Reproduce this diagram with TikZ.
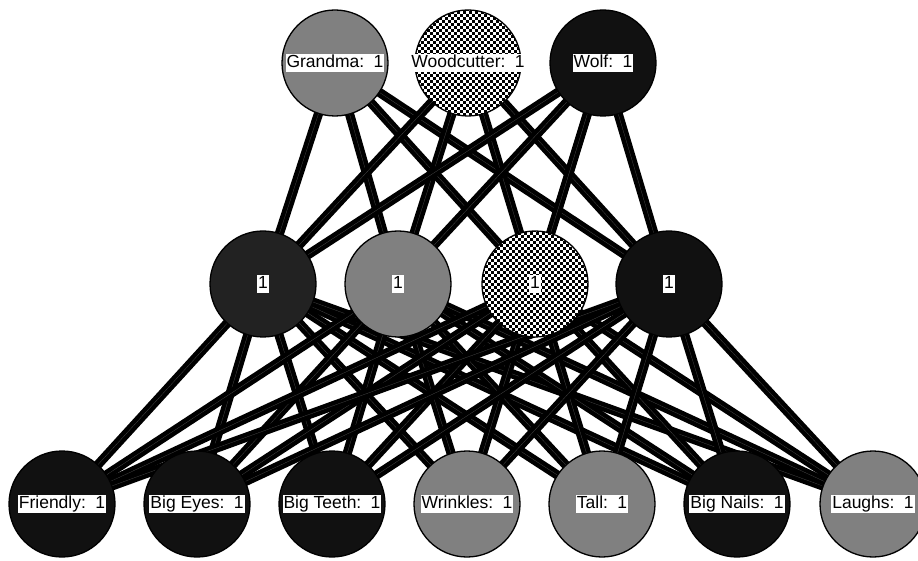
\documentclass[tikz,border=0pt]{standalone}
\usepackage{fontspec}
\setmainfont{Liberation Sans}
\usepackage{tikz}
\usetikzlibrary{backgrounds}

\definecolor{darkfill}{HTML}{111111}
\definecolor{darkerfill}{HTML}{222222}
\definecolor{midfill}{HTML}{808080}

\begin{document}
\begin{tikzpicture}[x=1pt, y=1pt,
    neuron/.style={circle, draw=black, line width=1.3pt, minimum size=106pt, inner sep=0pt},
    tagbox/.style={fill=white, inner sep=1pt, text height=12.8pt, text depth=3.6pt,
      font=\fontsize{17.5}{18}\selectfont},
    checked/.style={fill=white, path picture={
        \foreach \j [evaluate=\j as \ph using {3*mod(\j,2)}] in {0,...,36}
            \draw[line width=3pt, dash pattern=on 3pt off 3pt, dash phase=\ph pt]
                ([yshift=\j*3pt+1.5pt]path picture bounding box.south west) --
                ([yshift=\j*3pt+1.5pt]path picture bounding box.south east);
    }},
    link/.style={line width=4.5pt, double=black!70, double distance=0.25pt}]
    \useasboundingbox (0,0) rectangle (918,560);

    % output layer
    \node[neuron, fill=midfill, label={[tagbox]center:{Grandma: \,1}}] (grandma) at (335,497) {};
    \node[neuron, checked, label={[tagbox]center:{Woodcutter: \,1}}] (woodcutter) at (468,497) {};
    \node[neuron, fill=darkfill, label={[tagbox]center:{Wolf: \,1}}] (wolf) at (603,497) {};

    % hidden layer
    \node[neuron, fill=darkerfill, label={[tagbox]center:1}] (h1) at (263,276) {};
    \node[neuron, fill=midfill, label={[tagbox]center:1}] (h2) at (398,276) {};
    \node[neuron, checked, label={[tagbox]center:1}] (h3) at (535,276) {};
    \node[neuron, fill=darkfill, label={[tagbox]center:1}] (h4) at (669,276) {};

    % input layer
    \node[neuron, fill=darkfill, label={[tagbox]center:{Friendly: \,1}}] (friendly) at (62,56) {};
    \node[neuron, fill=darkfill, label={[tagbox]center:{Big Eyes: \,1}}] (bigeyes) at (197,56) {};
    \node[neuron, fill=darkfill, label={[tagbox]center:{Big Teeth: \,1}}] (bigteeth) at (332,56) {};
    \node[neuron, fill=midfill, label={[tagbox]center:{Wrinkles: \,1}}] (wrinkles) at (467,56) {};
    \node[neuron, fill=midfill, label={[tagbox]center:{Tall: \,1}}] (tall) at (602,56) {};
    \node[neuron, fill=darkfill, label={[tagbox]center:{Big Nails: \,1}}] (bignails) at (737,56) {};
    \node[neuron, fill=midfill, label={[tagbox]center:{Laughs: \,1}}] (laughs) at (873,56) {};

    % weights
    \begin{scope}[on background layer]
        \foreach \a in {grandma,woodcutter,wolf}
            \foreach \b in {h1,h2,h3,h4}
                \draw[link] (\a.center) -- (\b.center);
        \foreach \a in {h1,h2,h3,h4}
            \foreach \b in {friendly,bigeyes,bigteeth,wrinkles,tall,bignails,laughs}
                \draw[link] (\a.center) -- (\b.center);
    \end{scope}
\end{tikzpicture}
\end{document}
